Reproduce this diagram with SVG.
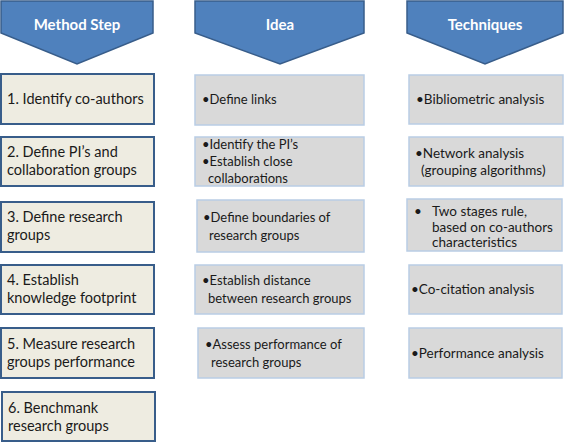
<svg xmlns="http://www.w3.org/2000/svg" width="568" height="443" viewBox="0 0 568 443">
<style>
.hdr{fill:#4F81BD;stroke:#385D8A;stroke-width:1.5}
.ht{font-family:Lato,"Liberation Sans",sans-serif;font-weight:bold;font-size:15px;fill:#fff;text-anchor:middle}
.mb{fill:#EEECE1;stroke:#385D8A;stroke-width:2}
.gb{fill:#D9D9D9;stroke:#B9CDE5;stroke-width:1.5}
.t{font-family:Lato,"Liberation Sans",sans-serif;font-size:14.5px;fill:#1a1a1a}
.s{font-family:Lato,"Liberation Sans",sans-serif;font-size:13.5px;fill:#1a1a1a}
.i{font-family:Lato,"Liberation Sans",sans-serif;font-size:13px;fill:#1a1a1a}
</style>
<rect width="568" height="443" fill="#fff"/>
<g id="hdr-method"><polygon class="hdr" points="1,1 153,1 153,33 77,64 1,33"/><text class="ht" x="77" y="30">Method Step</text></g>
<g id="hdr-idea"><polygon class="hdr" points="195,1 364,1 364,33 280,64 195,33"/><text class="ht" x="280" y="30">Idea</text></g>
<g id="hdr-tech"><polygon class="hdr" points="407,1 563,1 563,33 485,64 407,33"/><text class="ht" x="485" y="30">Techniques</text></g>

<g id="m1"><rect class="mb" x="1" y="74" width="153" height="50"/><text class="t" x="7" y="104">1. Identify co-authors</text></g>
<g id="m2"><rect class="mb" x="1" y="137" width="153" height="49"/><text class="t" x="7" y="157">2. Define PI’s and</text><text class="t" x="7" y="175">collaboration groups</text></g>
<g id="m3"><rect class="mb" x="1" y="202" width="153" height="50"/><text class="t" x="7" y="222">3. Define research</text><text class="t" x="7" y="240">groups</text></g>
<g id="m4"><rect class="mb" x="1" y="265" width="153" height="49"/><text class="t" x="7" y="285">4. Establish</text><text class="t" x="7" y="303">knowledge footprint</text></g>
<g id="m5"><rect class="mb" x="1" y="328" width="153" height="50"/><text class="t" x="7" y="349">5. Measure research</text><text class="t" x="7" y="367">groups performance</text></g>
<g id="m6"><rect class="mb" x="2" y="392" width="153" height="49"/><text class="t" x="8" y="413">6. Benchmank</text><text class="t" x="8" y="431">research groups</text></g>

<g id="i1"><rect class="gb" x="195" y="75" width="169" height="50"/><text class="i" x="202" y="104">•Define links</text></g>
<g id="i2"><rect class="gb" x="195" y="137" width="169" height="49"/><text class="i" x="202" y="149">•Identify the PI’s</text><text class="i" x="202" y="166">•Establish close</text><text class="i" x="208" y="183">collaborations</text></g>
<g id="i3"><rect class="gb" x="197" y="200" width="167" height="52"/><text class="i" x="203" y="222">•Define boundaries of</text><text class="i" x="209" y="240">research groups</text></g>
<g id="i4"><rect class="gb" x="195" y="265" width="169" height="49"/><text class="i" x="202" y="285">•Establish distance</text><text class="i" x="208" y="303">between research groups</text></g>
<g id="i5"><rect class="gb" x="198" y="328" width="166" height="50"/><text class="i" x="205" y="349">•Assess performance of</text><text class="i" x="211" y="367">research groups</text></g>

<g id="t1"><rect class="gb" x="409" y="75" width="154" height="49"/><text class="s" x="416" y="104">•Bibliometric analysis</text></g>
<g id="t2"><rect class="gb" x="409" y="137" width="154" height="49"/><text class="s" x="415" y="158">•Network analysis</text><text class="s" x="421" y="175">(grouping algorithms)</text></g>
<g id="t3"><rect class="gb" x="407" y="199" width="155" height="52"/><text class="s" x="414" y="216">•</text><text class="s" x="432" y="216">Two stages rule,</text><text class="s" x="432" y="232">based on co-authors</text><text class="s" x="432" y="247">characteristics</text></g>
<g id="t4"><rect class="gb" x="409" y="265" width="153" height="49"/><text class="s" x="411" y="294">•Co-citation analysis</text></g>
<g id="t5"><rect class="gb" x="409" y="328" width="153" height="50"/><text class="s" x="411" y="358">•Performance analysis</text></g>
</svg>
